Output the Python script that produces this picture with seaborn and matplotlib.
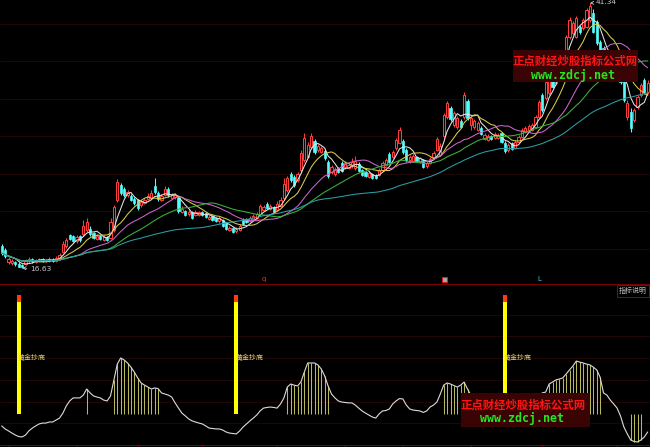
import numpy as np
import pandas as pd
import matplotlib
matplotlib.use('Agg')
import matplotlib.pyplot as plt
from matplotlib.patches import Rectangle
import seaborn as sns

# daily candles, read left to right off the screenshot
opens = [18.68, 18.31, 17.19, 17.10, 17.19, 17.01, 16.91, 17.01, 17.29, 17.47,
         17.19, 17.29, 17.47, 17.29, 17.29, 17.47, 17.29, 17.47, 18.12, 18.68,
         19.71, 19.62, 19.15, 19.62, 19.80, 20.18, 20.27, 19.90, 19.34, 19.62,
         19.24, 19.52, 19.43, 20.18, 22.97, 24.37, 24.00, 23.44, 23.35, 23.07,
         22.97, 22.51, 22.69, 23.07, 23.16, 24.28, 23.63, 22.97, 23.44, 24.00,
         23.16, 23.25, 23.16, 21.85, 21.95, 21.67, 21.85, 21.57, 21.57, 21.85,
         21.76, 21.20, 21.48, 21.29, 21.01, 21.11, 20.83, 20.18, 20.36, 20.08,
         20.18, 21.11, 21.20, 21.01, 21.20, 21.29, 21.67, 22.04, 22.60, 22.13,
         22.32, 22.04, 22.41, 23.16, 23.91, 25.40, 25.12, 24.84, 25.77, 26.71,
         26.99, 27.92, 28.48, 27.64, 27.45, 27.54, 26.52, 25.59, 25.40, 25.96,
         26.43, 26.05, 25.96, 26.15, 25.96, 26.33, 25.77, 25.59, 25.12, 25.40,
         25.31, 25.31, 25.77, 26.24, 27.26, 26.99, 27.82, 28.29, 28.48, 27.64,
         26.71, 26.61, 26.99, 26.52, 26.71, 26.15, 26.43, 26.99, 27.64, 27.17,
         28.94, 30.72, 31.56, 29.97, 29.78, 30.34, 30.72, 32.21, 29.97, 29.78,
         29.50, 29.69, 28.66, 28.57, 28.94, 28.76, 28.76, 29.22, 28.29, 27.64,
         28.29, 27.82, 28.38, 28.85, 29.32, 29.50, 29.50, 29.78, 30.72, 32.77,
         32.49, 32.96, 34.73, 33.89, 34.82, 35.85, 36.69, 38.18, 38.55, 38.18,
         39.11, 39.02, 39.11, 39.76, 40.42, 39.58, 37.71, 37.15, 36.03, 36.50,
         35.29, 35.57, 34.63, 34.17, 30.72, 31.18, 30.44, 31.65, 32.77, 34.17, 33.05]
closes = [18.03, 17.75, 17.47, 17.29, 17.01, 16.73, 16.73, 17.29, 17.47, 17.29,
          17.38, 17.47, 17.29, 17.38, 17.47, 17.29, 17.56, 17.84, 18.87, 19.24,
          19.34, 19.15, 19.52, 19.24, 20.55, 20.92, 19.80, 19.43, 19.62, 19.34,
          19.52, 19.24, 20.92, 22.32, 24.65, 23.63, 23.44, 23.72, 22.97, 22.69,
          22.23, 22.79, 22.97, 23.35, 23.63, 23.72, 23.07, 23.35, 24.00, 23.44,
          23.44, 23.44, 21.95, 22.13, 21.57, 21.85, 21.29, 21.85, 21.85, 21.57,
          21.39, 21.39, 21.11, 21.01, 21.29, 20.55, 20.27, 20.36, 19.99, 20.27,
          20.55, 20.74, 20.92, 21.29, 21.48, 21.67, 22.41, 22.32, 22.23, 22.41,
          21.85, 22.60, 22.97, 24.47, 25.03, 24.84, 24.37, 25.40, 27.36, 28.76,
          28.10, 28.94, 27.45, 28.01, 27.82, 26.89, 25.21, 26.05, 25.87, 25.59,
          25.68, 26.43, 26.24, 26.52, 26.61, 25.68, 25.31, 25.21, 25.49, 25.03,
          25.03, 25.77, 26.43, 26.71, 26.52, 27.45, 28.57, 29.50, 27.45, 26.71,
          26.99, 27.08, 26.61, 26.89, 26.05, 26.43, 26.80, 27.36, 28.66, 28.01,
          30.90, 32.02, 30.53, 31.09, 30.62, 29.78, 32.77, 30.62, 30.62, 30.34,
          30.16, 29.13, 29.04, 28.94, 28.66, 29.13, 29.04, 28.38, 27.54, 28.10,
          27.73, 28.38, 28.85, 29.50, 29.69, 29.87, 29.97, 30.72, 32.11, 31.37,
          33.98, 34.45, 33.51, 35.38, 36.03, 36.78, 38.18, 39.76, 39.48, 39.95,
          38.65, 39.76, 40.70, 41.07, 38.65, 37.62, 36.97, 36.22, 36.50, 35.57,
          35.85, 34.63, 33.98, 32.30, 32.02, 29.69, 31.37, 32.58, 33.70, 33.05, 33.89]
highs = [18.87, 18.50, 17.66, 17.47, 17.29, 17.19, 17.01, 17.47, 17.66, 17.56,
         17.47, 17.56, 17.56, 17.47, 17.66, 17.56, 17.75, 18.03, 19.15, 19.43,
         19.81, 19.71, 19.71, 19.71, 21.11, 21.29, 20.55, 19.99, 19.80, 19.71,
         19.71, 19.62, 21.29, 22.51, 24.93, 24.56, 24.19, 23.91, 23.53, 23.25,
         23.07, 22.97, 23.16, 23.63, 23.91, 25.03, 23.81, 23.53, 24.28, 24.19,
         23.63, 23.63, 23.35, 22.41, 22.04, 22.04, 21.95, 22.04, 21.95, 21.95,
         21.85, 21.57, 21.57, 21.39, 21.48, 21.20, 20.92, 20.55, 20.46, 20.46,
         20.74, 21.29, 21.29, 21.48, 21.67, 21.85, 22.60, 22.51, 22.79, 22.60,
         22.41, 22.88, 23.25, 25.03, 25.21, 25.59, 25.31, 25.59, 27.64, 29.22,
         28.38, 29.22, 28.66, 28.20, 28.01, 27.73, 26.71, 26.24, 26.05, 26.05,
         26.61, 26.61, 26.43, 26.89, 27.08, 26.52, 25.87, 25.68, 25.68, 25.49,
         25.40, 25.96, 26.61, 26.89, 27.45, 27.64, 28.76, 29.78, 28.66, 27.82,
         27.17, 27.26, 27.08, 26.99, 26.80, 26.61, 26.99, 27.54, 28.85, 28.29,
         31.09, 32.21, 31.74, 31.28, 30.81, 30.53, 33.05, 32.40, 30.81, 30.53,
         30.34, 29.87, 29.22, 29.13, 29.04, 29.32, 29.22, 29.32, 28.48, 28.29,
         28.38, 28.57, 29.04, 29.69, 29.87, 30.06, 30.16, 30.90, 32.30, 32.96,
         34.26, 34.63, 34.91, 35.57, 36.22, 36.97, 38.37, 40.04, 39.67, 40.14,
         39.30, 39.95, 40.88, 41.34, 40.79, 39.76, 37.90, 37.34, 36.69, 36.69,
         36.03, 35.75, 34.82, 34.35, 32.30, 31.56, 31.56, 32.77, 33.89, 34.35, 34.17]
lows = [17.84, 17.56, 17.01, 16.91, 16.82, 16.73, 16.63, 16.91, 17.10, 17.10,
        17.10, 17.19, 17.19, 17.19, 17.19, 17.19, 17.19, 17.38, 18.03, 18.50,
        19.24, 19.06, 18.96, 19.06, 19.62, 19.99, 19.62, 19.34, 19.24, 19.24,
        19.15, 19.15, 19.34, 19.99, 22.79, 23.44, 23.25, 23.25, 22.88, 22.51,
        22.04, 22.32, 22.60, 22.97, 23.07, 23.53, 22.88, 22.88, 23.35, 23.25,
        23.07, 23.07, 21.76, 21.76, 21.48, 21.48, 21.20, 21.48, 21.48, 21.48,
        21.29, 21.11, 21.01, 20.92, 20.83, 20.46, 20.18, 20.08, 19.90, 19.90,
        20.08, 20.64, 20.83, 20.92, 21.11, 21.20, 21.57, 21.95, 22.13, 22.04,
        21.76, 21.95, 22.32, 22.97, 23.72, 24.65, 24.19, 24.65, 25.59, 26.52,
        26.89, 27.73, 27.26, 27.45, 27.36, 26.71, 25.03, 25.40, 25.21, 25.49,
        25.59, 25.87, 25.87, 25.96, 25.77, 25.59, 25.21, 25.12, 25.03, 24.93,
        24.93, 25.21, 25.68, 26.15, 26.43, 26.89, 27.64, 28.20, 27.26, 26.52,
        26.43, 26.52, 26.52, 26.43, 25.96, 25.96, 26.33, 26.89, 27.54, 27.08,
        28.76, 30.53, 30.34, 29.78, 29.60, 29.69, 30.53, 30.44, 29.50, 29.60,
        29.41, 29.04, 28.57, 28.48, 28.57, 28.66, 28.66, 28.29, 27.36, 27.45,
        27.64, 27.73, 28.29, 28.76, 29.22, 29.41, 29.41, 29.69, 30.62, 31.18,
        32.30, 32.77, 33.42, 33.70, 34.63, 35.66, 36.50, 37.99, 38.37, 38.09,
        38.46, 38.83, 39.02, 39.58, 38.55, 37.43, 36.78, 36.03, 35.85, 35.38,
        35.10, 34.45, 33.79, 32.11, 30.44, 29.32, 30.25, 31.46, 32.58, 32.86, 32.86]

# lower panel indicator (white curve)
osc = [8.8, 7.4, 6.5, 5.5, 4.6, 3.9, 3.7, 4.6, 6.5, 7.8,
       8.8, 9.7, 10.1, 10.1, 10.6, 10.6, 11.5, 12.4, 14.7, 18.0,
       20.3, 21.7, 21.7, 21.7, 23.0, 25.8, 24.0, 22.6, 22.1, 21.7,
       20.7, 20.3, 22.6, 30.0, 37.3, 40.1, 39.2, 37.8, 35.9, 33.6,
       30.9, 28.6, 27.6, 26.7, 25.8, 26.3, 26.0, 24.0, 23.5, 23.0,
       22.1, 19.4, 17.0, 14.7, 13.4, 12.0, 11.1, 10.6, 10.1, 9.7,
       8.8, 7.8, 7.6, 7.4, 7.4, 6.9, 6.0, 5.5, 5.3, 5.1,
       6.5, 8.3, 9.7, 11.1, 12.4, 13.8, 15.7, 17.0, 17.3, 17.5,
       17.3, 17.0, 18.9, 21.7, 26.7, 28.1, 27.6, 27.2, 29.0, 33.6,
       37.8, 37.8, 37.8, 36.9, 35.0, 31.8, 27.2, 23.5, 21.7, 20.3,
       19.8, 19.6, 19.4, 19.4, 18.4, 17.0, 15.7, 14.7, 13.8, 12.9,
       12.4, 14.3, 15.7, 15.9, 16.6, 18.9, 20.3, 21.4, 21.2, 18.4,
       16.6, 16.1, 15.9, 15.7, 15.0, 15.7, 17.5, 18.4, 19.8, 23.5,
       27.6, 28.6, 28.1, 27.4, 26.7, 27.6, 29.0, 25.8, 23.0, 21.2,
       19.8, 18.9, 18.0, 17.0, 16.1, 15.7, 15.2, 14.3, 13.4, 12.9,
       13.4, 14.3, 15.2, 16.6, 18.4, 19.8, 21.2, 22.1, 23.0, 24.0,
       24.4, 28.1, 29.0, 30.0, 30.4, 30.9, 32.7, 34.6, 36.4, 38.7,
       38.2, 37.8, 37.3, 36.9, 35.9, 34.6, 31.3, 24.0, 23.0, 20.7,
       18.9, 17.0, 13.4, 8.3, 5.1, 2.3, 1.6, 1.4, 2.3, 3.7, 6.0]

signal_bars = [5, 69, 148]
signal_label = '黄金抄底'
stick_base = 14.3
stick_hi = 25
stick_lo = 3
signal_top = 69

ma_windows = [5, 10, 20, 30, 60]
ma_colors = ['#e6e6e6', '#d8cc50', '#cc66cc', '#3cb43c', '#2c9ea6']

event_bars = [77, 130, 158]
month_ticks = [2, 22, 40, 59, 81, 101, 118, 138, 159, 181]

df = pd.DataFrame({'bar': np.arange(len(closes)), 'open': opens, 'close': closes,
                   'high': highs, 'low': lows, 'osc': osc})
ma_names = [f'MA{w}' for w in ma_windows]
for w, name in zip(ma_windows, ma_names):
    df[name] = df['close'].rolling(w, min_periods=1).mean()

sns.set_theme(style='dark', rc={'axes.facecolor': 'black', 'figure.facecolor': 'black'})
plt.rcParams['font.family'] = ['Noto Sans CJK SC', 'DejaVu Sans']

W, H = 650, 447
px_per_bar = 3.4
fig = plt.figure(figsize=(W / 100, H / 100), dpi=100, facecolor='black')
ax = fig.add_axes([0, 1 - 284 / H, 1, 284 / H])
ax2 = fig.add_axes([0, 2 / H, 1, 160 / H])

red = '#ff3c3c'
cyan = '#54fcfc'
grid_c = '#1e0506'
sep_c = '#780000'

# ---- price panel
for g in np.arange(39.39, 16, -3.49):
    ax.axhline(g, color=grid_c, lw=0.72, zorder=0)

up = df['close'] >= df['open']
dn = ~up
ax.vlines(df.bar[up], df.low[up], df.high[up], color=red, lw=0.75, zorder=2)
ax.vlines(df.bar[dn], df.low[dn], df.high[dn], color=cyan, lw=0.75, zorder=2)
ax.bar(df.bar[up], (df.close - df.open)[up], bottom=df.open[up], width=0.68,
       facecolor='black', edgecolor=red, linewidth=0.75, zorder=3)
ax.bar(df.bar[dn], (df.close - df.open)[dn], bottom=df.open[dn], width=0.68,
       color=cyan, edgecolor=cyan, linewidth=0.5, zorder=3)

ma_long = df.melt(id_vars='bar', value_vars=ma_names, var_name='ma', value_name='price')
sns.lineplot(data=ma_long, x='bar', y='price', hue='ma', palette=dict(zip(ma_names, ma_colors)),
             linewidth=0.75, legend=False, ax=ax, zorder=4)

lo_i = int(df['low'].idxmin())
hi_i = int(df['high'].idxmax())
ax.annotate(f"{df['low'].min():.2f}", xy=(lo_i, df['low'].min()), xytext=(8, -1),
            textcoords='offset pixels', color='#c8c8c8', fontsize=5.4, va='center',
            family='DejaVu Sans',
            arrowprops=dict(arrowstyle='->', color='#c8c8c8', lw=0.6, shrinkA=0, shrinkB=0))
ax.annotate(f"{df['high'].max():.2f}", xy=(hi_i, df['high'].max()), xytext=(6, 1),
            textcoords='offset pixels', color='#c8c8c8', fontsize=5.4, va='center',
            family='DejaVu Sans',
            arrowprops=dict(arrowstyle='->', color='#c8c8c8', lw=0.6, shrinkA=0, shrinkB=0))

xt = ax.get_xaxis_transform()
ax.text(event_bars[0], 0.006, 'q', transform=xt, color='#e03030', fontsize=5,
        ha='center', va='bottom', family='DejaVu Sans')
ax.plot([event_bars[1]], [0.017], transform=xt, marker='s', ms=3.6, mfc='#a8a8a8',
        mec='#d02020', mew=0.8, zorder=5)
ax.text(event_bars[2], 0.006, 'L', transform=xt, color='#40c8d0', fontsize=5,
        ha='center', va='bottom', family='DejaVu Sans')

ax.set_xlim(-0.5, W / px_per_bar - 0.5)
ax.set_ylim(15.14, 41.63)
ax.set_xticks([])
ax.set_yticks([])
ax.set_xlabel('')
ax.set_ylabel('')
for s in ['top', 'left', 'right']:
    ax.spines[s].set_visible(False)
ax.spines['bottom'].set_color(sep_c)
ax.spines['bottom'].set_linewidth(0.72)

# ---- indicator panel
for g in range(10, 70, 10):
    ax2.axhline(g, color=grid_c, lw=0.72, zorder=0)

hi = df['osc'] > stick_hi
lo = df['osc'] < stick_lo
ax2.vlines(df.bar[hi], stick_base, df.osc[hi], color='#b8b85a', lw=0.75, zorder=2)
ax2.vlines(df.bar[lo], df.osc[lo], stick_base, color='#b8b85a', lw=0.75, zorder=2)

ax2.vlines(signal_bars, stick_base, signal_top, color='#ffff00', lw=2.9, zorder=3)
ax2.vlines(signal_bars, signal_top - 3, signal_top, color='#ff3a1a', lw=2.9, zorder=3)
for b in signal_bars:
    ax2.text(b - 0.25, 39.9, signal_label, color='#e6d070', fontsize=5,
             ha='left', va='center', zorder=6)

sns.lineplot(data=df, x='bar', y='osc', color='#dcdcdc', linewidth=0.8, ax=ax2, zorder=5)

ax2.text(0.995, 0.985, '指标说明', transform=ax2.transAxes, ha='right', va='top',
         fontsize=5, color='#c0c0c0',
         bbox=dict(boxstyle='square,pad=0.3', fc='black', ec='#5a2828', lw=0.6))

ax2.set_xlim(-0.5, W / px_per_bar - 0.5)
ax2.set_ylim(0, 73.73)
ax2.set_xticks(month_ticks)
ax2.set_yticks([])
ax2.tick_params(axis='x', length=2.5, width=0.8, color=sep_c, direction='out',
                labelbottom=False, bottom=True)
ax2.set_xlabel('')
ax2.set_ylabel('')
for s in ['top', 'left', 'right']:
    ax2.spines[s].set_visible(False)
ax2.spines['bottom'].set_color(sep_c)
ax2.spines['bottom'].set_linewidth(0.72)

# ---- watermark boxes
def watermark(x0, y0, x1, y1, cx, cy_red, cy_green):
    fig.patches.append(Rectangle((x0 / W, 1 - y1 / H), (x1 - x0) / W, (y1 - y0) / H,
                                 transform=fig.transFigure, fc='#3a0404', ec='none', zorder=10))
    fig.text(cx / W, 1 - cy_red / H, '正点财经炒股指标公式网', color='#ff1414', fontsize=8.2,
             weight='bold', ha='center', va='center', zorder=11)
    fig.text((cx - 2) / W, 1 - cy_green / H, 'www.zdcj.net', color='#22e622', fontsize=8.4,
             family='DejaVu Sans Mono', weight='bold', ha='center', va='center', zorder=11)

watermark(513, 50, 638, 82, 575, 61.5, 76)
watermark(461, 393, 590, 427, 523.5, 405, 418.5)

fig.savefig('out.png', dpi=100, facecolor='black')
